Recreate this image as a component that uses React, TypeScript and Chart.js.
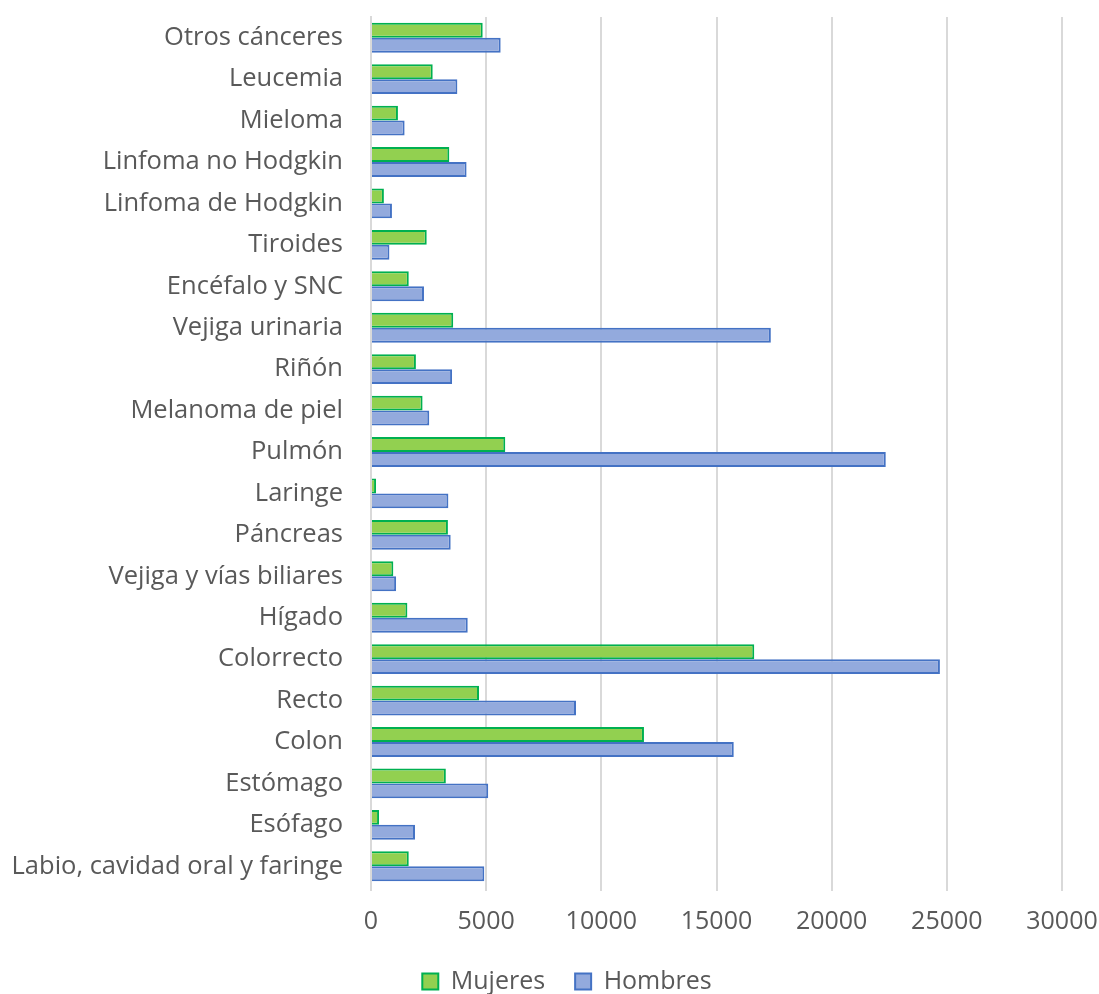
import React, { useEffect, useRef } from "react";
import { Chart, registerables } from "chart.js";

Chart.register(...registerables);

const categories = [
  "Otros cánceres",
  "Leucemia",
  "Mieloma",
  "Linfoma no Hodgkin",
  "Linfoma de Hodgkin",
  "Tiroides",
  "Encéfalo y SNC",
  "Vejiga urinaria",
  "Riñón",
  "Melanoma de piel",
  "Pulmón",
  "Laringe",
  "Páncreas",
  "Vejiga y vías biliares",
  "Hígado",
  "Colorrecto",
  "Recto",
  "Colon",
  "Estómago",
  "Esófago",
  "Labio, cavidad oral y faringe",
];

const mujeres = [
  4850, 2680, 1170, 3400, 560, 2420, 1640, 3570, 1950, 2240, 5830, 220, 3340,
  970, 1580, 16640, 4690, 11850, 3250, 350, 1640,
];

const hombres = [
  5630, 3750, 1460, 4150, 910, 800, 2300, 17360, 3520, 2530, 22350, 3360, 3460,
  1090, 4200, 24700, 8900, 15750, 5090, 1910, 4920,
];

const xMin = 0;
const xMax = 30000;
const xStep = 5000;

const FONT = "'Open Sans', 'Noto Sans', sans-serif";
const TEXT = "#595959";

const legendShift = {
  id: "legendShift",
  afterLayout(chart: any) {
    const lg = chart.legend;
    if (lg) {
      lg.left += 36;
      lg.right += 36;
      lg.top -= 10;
      lg.bottom -= 10;
    }
  },
};

export default function App() {
  const ref = useRef<HTMLCanvasElement | null>(null);

  useEffect(() => {
    document.body.style.margin = "0";
    const canvas = ref.current;
    if (!canvas) return;
    const chart = new Chart(canvas, {
      type: "bar",
      data: {
        labels: categories,
        datasets: [
          {
            label: "Mujeres",
            data: mujeres,
            backgroundColor: "#92d050",
            borderColor: "#00b050",
            borderWidth: 2,
            categoryPercentage: 0.72,
            barPercentage: 1,
          },
          {
            label: "Hombres",
            data: hombres,
            backgroundColor: "#93aadd",
            borderColor: "#4472c4",
            borderWidth: 2,
            categoryPercentage: 0.72,
            barPercentage: 1,
          },
        ],
      },
      plugins: [legendShift],
      options: {
        indexAxis: "y",
        animation: false,
        responsive: false,
        maintainAspectRatio: false,
        devicePixelRatio: 1,
        layout: { padding: { top: 17, right: 37, left: 0, bottom: -20 } },
        plugins: {
          tooltip: { enabled: false },
          legend: {
            position: "bottom",
            labels: {
              color: TEXT,
              font: { family: FONT, size: 25 },
              boxWidth: 16,
              boxHeight: 16,
              padding: 30,
            },
          },
        },
        scales: {
          x: {
            min: xMin,
            max: xMax,
            ticks: {
              stepSize: xStep,
              color: TEXT,
              font: { family: FONT, size: 25 },
              padding: 16,
              callback: (v: any) => String(v),
            },
            grid: {
              color: "#d9d9d9",
              lineWidth: 2,
              drawTicks: true,
              tickLength: 4,
              tickColor: "#d9d9d9",
            },
            border: { display: false },
            afterFit: (scale: any) => {
              scale.height = 62;
              scale.paddingLeft = 0;
              scale.paddingRight = 0;
            },
          },
          y: {
            ticks: {
              color: TEXT,
              font: { family: FONT, size: 25.5 },
              padding: 28,
              autoSkip: false,
            },
            grid: { display: false, drawTicks: false },
            border: { display: true, color: "#d9d9d9", width: 2 },
            afterFit: (scale: any) => {
              scale.width = 371;
              scale.paddingTop = 0;
              scale.paddingBottom = 0;
            },
          },
        },
      },
    });
    return () => chart.destroy();
  }, []);

  return (
    <div style={{ width: 1099, height: 994, background: "#fff" }}>
      <canvas ref={ref} width={1099} height={994} style={{ width: 1099, height: 994, display: "block" }} />
    </div>
  );
}
